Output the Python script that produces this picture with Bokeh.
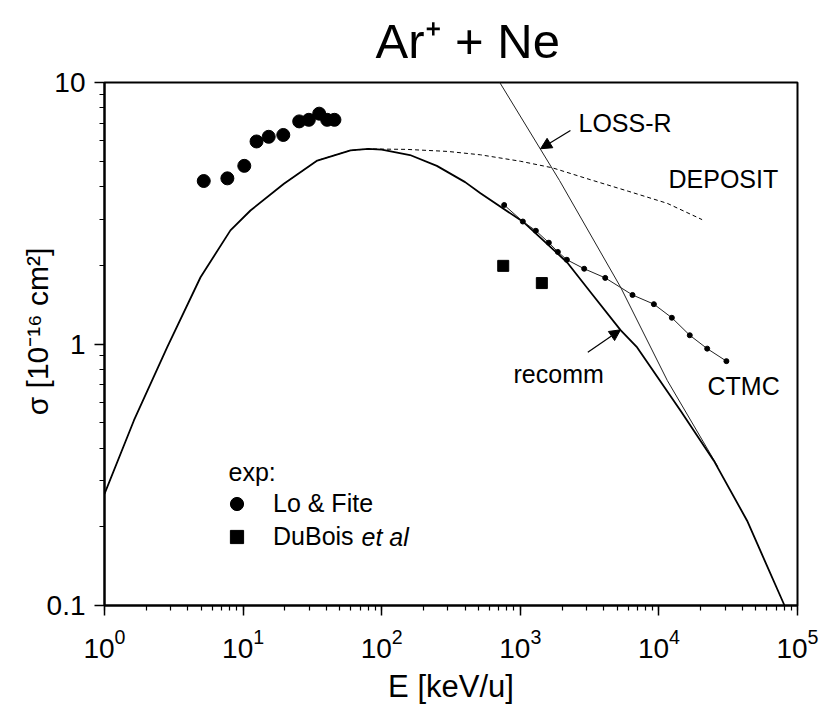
import numpy as np
from bokeh.plotting import figure
from bokeh.models import (Range1d, Label, Arrow, NormalHead, Legend, LegendItem,
                          LogTicker, LogTickFormatter, FixedTicker, CustomJSTickFormatter)
from bokeh.embed import file_html
from bokeh.resources import INLINE

# ---------------- data ----------------
lo_fite_E = [5.2, 7.7, 10.2, 12.5, 15.3, 19.5, 25.4, 29.8, 35.4, 40.4, 45.6]
lo_fite_sigma = [4.2, 4.3, 4.8, 5.95, 6.2, 6.3, 7.1, 7.2, 7.6, 7.2, 7.2]

dubois_E = [753, 1430]
dubois_sigma = [1.99, 1.71]

ctmc_E = [765, 1043, 1295, 1607, 1866, 2168, 2890, 4100, 6450, 9200, 12400, 16700, 22300, 30700]
ctmc_sigma = [3.40, 2.94, 2.71, 2.44, 2.25, 2.10, 1.94, 1.79, 1.54, 1.42, 1.26, 1.08, 0.96, 0.86]

recomm_E = [1, 1.63, 2.83, 4.93, 8.1, 11.3, 19.7, 34.3, 59.6, 80, 100, 160, 250, 400, 516,
            1060, 2180, 3300, 5290, 6970, 14300, 24900, 43300, 80600]
recomm_sigma = [0.267, 0.51, 0.97, 1.80, 2.72, 3.24, 4.10, 5.03, 5.50, 5.57, 5.54, 5.28, 4.80, 4.16, 3.77,
                2.92, 2.05, 1.55, 1.13, 0.97, 0.557, 0.358, 0.211, 0.1]

deposit_E = [19.7, 34.3, 59.6, 80, 150, 300, 516, 1000, 1700, 3200, 6000, 11500, 20500]
deposit_sigma = [4.10, 5.03, 5.50, 5.57, 5.55, 5.45, 5.29, 5.0, 4.72, 4.25, 3.84, 3.45, 2.99]

lossr_E = [711, 1918, 5290, 11500, 26600]
lossr_sigma = [10, 4.22, 1.65, 0.725, 0.34]

y_ticks = [0.1, 1, 10]
y_minor_ticks = [0.2, 0.3, 0.4, 0.5, 0.6, 0.7, 0.8, 0.9, 2, 3, 4, 5, 6, 7, 8, 9]

title_text = "Ar\u207a + Ne"
x_label = "E [keV/u]"
y_label = "\u03c3 [10\u207b\u00b9\u2076 cm\u00b2]"

# ---------------- layout helpers (pixel -> data, for text placement) ----------------
FL, FR, FT, FB = 104, 797, 82, 605
W, H = 823, 714
XMIN, XMAX, YMIN, YMAX = 1, 1e5, 0.1, 10


def px2x(px):
    return 10 ** (np.log10(XMIN) + (px - FL) / (FR - FL) * (np.log10(XMAX) - np.log10(XMIN)))


def px2y(py):
    return 10 ** (np.log10(YMAX) - (py - FT) / (FB - FT) * (np.log10(YMAX) - np.log10(YMIN)))


FONT = "Liberation Sans"

p = figure(width=W, height=H, x_axis_type="log", y_axis_type="log",
           x_range=Range1d(XMIN, XMAX), y_range=Range1d(YMIN, YMAX),
           output_backend="svg", toolbar_location=None,
           min_border_left=FL, min_border_right=W - FR, min_border_top=FT, min_border_bottom=H - FB)
p.grid.visible = False
p.outline_line_color = "black"
p.outline_line_width = 2
p.background_fill_color = "white"
p.border_fill_color = "white"

# title
p.title.text = title_text
p.title.text_font = FONT
p.title.text_font_size = "49px"
p.title.text_font_style = "normal"
p.title.text_color = "black"
p.title.align = "left"
p.title.offset = 271
p.title.standoff = 26
p.title.vertical_align = "top"

for ax in (p.xaxis[0], p.yaxis[0]):
    ax.axis_line_width = 2
    ax.major_tick_line_width = 1.5
    ax.minor_tick_line_width = 1.2
    ax.major_tick_in = 0
    ax.major_tick_out = 10
    ax.minor_tick_in = 0
    ax.minor_tick_out = 5
    ax.major_label_text_font = FONT
    ax.major_label_text_font_size = "28px"
    ax.major_label_text_color = "black"
    ax.axis_label_text_font = FONT
    ax.axis_label_text_font_style = "normal"
    ax.axis_label_text_color = "black"

p.xaxis.ticker = LogTicker(num_minor_ticks=10)
p.xaxis.formatter = LogTickFormatter()
p.xaxis.major_label_standoff = 13
p.xaxis.axis_label = x_label
p.xaxis.axis_label_text_font_size = "31px"
p.xaxis.axis_label_standoff = 8

p.yaxis.ticker = FixedTicker(ticks=y_ticks, minor_ticks=y_minor_ticks)
p.yaxis.formatter = CustomJSTickFormatter(code="return tick < 1 ? tick.toFixed(1) : tick.toFixed(0)")
p.yaxis.major_label_standoff = 9
p.yaxis.axis_label = "\u00a0" * 3 + y_label
p.yaxis.axis_label_text_font_size = "30px"
p.yaxis.axis_label_standoff = -10

# ---------------- curves ----------------
p.line(deposit_E, deposit_sigma, line_color="black", line_width=1, line_dash="4 3")
p.line(lossr_E, lossr_sigma, line_color="#222222", line_width=1)
p.line(recomm_E, recomm_sigma, line_color="black", line_width=1.8)
p.line(ctmc_E, ctmc_sigma, line_color="#222222", line_width=1)
p.scatter(ctmc_E, ctmc_sigma, size=5, marker="circle", color="black")
r_lo = p.scatter(lo_fite_E, lo_fite_sigma, size=13, marker="circle", color="black")
r_db = p.scatter(dubois_E, dubois_sigma, size=11, marker="square", color="black")

# arrows
p.add_layout(Arrow(x_start=2300, y_start=6.55, x_end=1400, y_end=5.58, line_width=1.2,
                   end=NormalHead(size=11, fill_color="black", line_color="black")))
p.add_layout(Arrow(x_start=3070, y_start=0.93, x_end=5290, y_end=1.133, line_width=1.2,
                   end=NormalHead(size=11, fill_color="black", line_color="black")))


def add_text(text, px, py_base, size=25, style="normal"):
    # py_base: wanted baseline (pixels); the label is anchored at its middle
    p.add_layout(Label(x=px2x(px), y=px2y(py_base - 0.35 * size), text=text, text_font=FONT,
                       text_font_size=f"{size}px", text_font_style=style, text_color="black",
                       text_align="left", text_baseline="middle"))


# curve labels
add_text("LOSS-R", 578, 131)
add_text("DEPOSIT", 668, 187)
add_text("recomm", 513, 382)
add_text("CTMC", 707, 394)

# legend
add_text("exp:", 228, 480)
legend = Legend(items=[LegendItem(label="Lo & Fite", renderers=[r_lo]),
                       LegendItem(label="DuBois", renderers=[r_db])],
                location=(116, 52), orientation="vertical", glyph_width=33, glyph_height=33,
                label_standoff=20, spacing=0, padding=0, margin=0,
                background_fill_alpha=0, border_line_alpha=0,
                label_text_font=FONT, label_text_font_size="25px", label_text_color="black")
p.add_layout(legend)
p.add_layout(Label(x=px2x(361), y=px2y(536.5), text="et al", text_font=FONT, text_font_size="25px",
                   text_font_style="italic", text_color="black", text_align="left", text_baseline="middle"))

open("out.html", "w").write(file_html(p, INLINE))
